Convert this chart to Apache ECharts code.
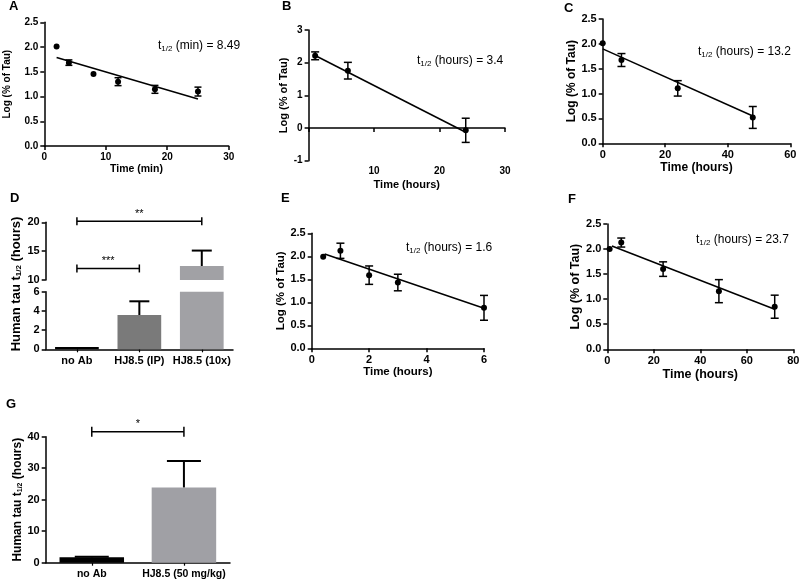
<!DOCTYPE html>
<html><head><meta charset="utf-8">
<script src="https://cdn.jsdelivr.net/npm/echarts@6/dist/echarts.min.js"></script>
<style>html,body{margin:0;padding:0;background:#fff}#c{width:800px;height:580px}</style>
</head><body><div id="c"></div>
<script>
// ---------- DATA ----------
// Panel A
const aTime = [2, 4, 8, 12, 18, 25];
const aLog  = [2.01, 1.685, 1.455, 1.30, 1.145, 1.10];
const aErr  = [0, 0.055, 0, 0.08, 0.08, 0.09];
const aFitX = [2, 25];
const aFitY = [1.79, 0.95];
const aXTicks = [0, 10, 20, 30];
const aYTicks = [0, 0.5, 1.0, 1.5, 2.0, 2.5];
// Panel B
const bTime = [1, 6, 24];
const bLog  = [2.21, 1.755, -0.07];
const bErr  = [0.12, 0.255, 0.37];
const bFitX = [1, 23.7];
const bFitY = [2.22, -0.1];
const bXTicks = [0, 10, 20, 30];
const bYTicks = [-1, 0, 1, 2, 3];
// Panel C
const cTime = [0, 6, 24, 48];
const cLog  = [2.01, 1.675, 1.105, 0.52];
const cErr  = [0, 0.13, 0.155, 0.22];
const cFitX = [0, 48];
const cFitY = [1.90, 0.55];
const cXTicks = [0, 20, 40, 60];
const cYTicks = [0, 0.5, 1.0, 1.5, 2.0, 2.5];
// Panel D
const dCats = ['no Ab', 'HJ8.5 (IP)', 'HJ8.5 (10x)'];
const dVals = [0.25, 3.57, 12.43];
const dErrTop = [0.25, 5.0, 15.1];
const dLowTicks = [0, 2, 4, 6];
const dUpTicks = [10, 15, 20];
const dBrackets = [[0, 1, 12.0], [0, 2, 20.2]];
const dStars = ['***', '**'];
// Panel E
const eTime = [0.4, 1, 2, 3, 6];
const eLog  = [1.99, 2.12, 1.59, 1.43, 0.88];
const eErr  = [0, 0.165, 0.2, 0.18, 0.27];
const eFitX = [0.45, 6];
const eFitY = [2.05, 0.87];
const eXTicks = [0, 2, 4, 6];
const eYTicks = [0, 0.5, 1.0, 1.5, 2.0, 2.5];
// Panel F
const fTime = [1, 6, 24, 48, 72];
const fLog  = [2.0, 2.13, 1.6, 1.16, 0.85];
const fErr  = [0, 0.09, 0.145, 0.23, 0.23];
const fFitX = [2, 72];
const fFitY = [2.06, 0.8];
const fXTicks = [0, 20, 40, 60, 80];
const fYTicks = [0, 0.5, 1.0, 1.5, 2.0, 2.5];
// Panel G
const gCats = ['no Ab', 'HJ8.5 (50 mg/kg)'];
const gVals = [1.7, 23.9];
const gErrTop = [1.9, 32.3];
const gYTicks = [0, 10, 20, 30, 40];
const gBrackets = [[0, 1, 41.6]];
const gStars = ['*'];

// ---------- STYLE ----------
const FONT = 'Liberation Sans';
const dColors = ['#000000', '#7a7a7a', '#a1a1a5'];
const gColors = ['#000000', '#a0a0a5'];
const f1 = v => v.toFixed(1);

function valAxis(gi, ticks, fs, fmt, nameOpt) {
  const ax = {
    type: 'value', gridIndex: gi,
    min: ticks[0], max: ticks[ticks.length - 1], interval: ticks[1] - ticks[0],
    axisLine: { show: true, onZero: false, lineStyle: { color: '#000', width: 1.5 } },
    axisTick: { show: true, length: 4, lineStyle: { color: '#000', width: 1.5 } },
    axisLabel: { show: true, color: '#000', fontFamily: FONT, fontWeight: 'bold', fontSize: fs, margin: 6,
      formatter: fmt, showMinLabel: true, showMaxLabel: true, hideOverlap: false },
    splitLine: { show: false }
  };
  if (nameOpt) {
    ax.name = nameOpt.name; ax.nameLocation = 'middle'; ax.nameGap = nameOpt.gap;
    if (nameOpt.rotate) ax.nameRotate = nameOpt.rotate;
    ax.nameTextStyle = { color: '#000', fontFamily: FONT, fontWeight: 'bold', fontSize: nameOpt.fs, rich: nameOpt.rich };
  }
  return ax;
}
function catAxis(gi, cats, fs, show) {
  return {
    type: 'category', gridIndex: gi, data: cats, show: show,
    axisLine: { show: true, onZero: false, lineStyle: { color: '#000', width: 1.5 } },
    axisTick: { show: true, alignWithLabel: true, length: 3, lineStyle: { color: '#000', width: 1.2 } },
    axisLabel: { color: '#000', fontFamily: FONT, fontWeight: 'bold', fontSize: fs, margin: 6, interval: 0 },
    splitLine: { show: false }
  };
}
const LS = { stroke: '#000', lineWidth: 1.5 };
function symErr(cap) {
  return function (params, api) {
    const x = api.value(0), m = api.value(1), e = api.value(2);
    if (!(e > 0)) return null;
    const lo = api.coord([x, m - e]), hi = api.coord([x, m + e]);
    return { type: 'group', children: [
      { type: 'line', shape: { x1: lo[0], y1: lo[1], x2: hi[0], y2: hi[1] }, style: LS },
      { type: 'line', shape: { x1: lo[0] - cap, y1: lo[1], x2: lo[0] + cap, y2: lo[1] }, style: LS },
      { type: 'line', shape: { x1: hi[0] - cap, y1: hi[1], x2: hi[0] + cap, y2: hi[1] }, style: LS }
    ] };
  };
}
function upErr(cap) {
  return function (params, api) {
    const x = api.value(0), m = api.value(1), t = api.value(2);
    if (!(t > m)) return null;
    const b = api.coord([x, m]), h = api.coord([x, t]);
    const st = { stroke: '#000', lineWidth: 2 };
    return { type: 'group', children: [
      { type: 'line', shape: { x1: b[0], y1: b[1], x2: h[0], y2: h[1] }, style: st },
      { type: 'line', shape: { x1: h[0] - cap, y1: h[1], x2: h[0] + cap, y2: h[1] }, style: st }
    ] };
  };
}
function bracket(labels, tk) {
  return function (params, api) {
    const a = api.coord([api.value(0), api.value(2)]), b = api.coord([api.value(1), api.value(2)]);
    const st = { stroke: '#000', lineWidth: 1.5 };
    return { type: 'group', children: [
      { type: 'line', shape: { x1: a[0], y1: a[1], x2: b[0], y2: b[1] }, style: st },
      { type: 'line', shape: { x1: a[0], y1: a[1] - tk, x2: a[0], y2: a[1] + tk }, style: st },
      { type: 'line', shape: { x1: b[0], y1: b[1] - tk, x2: b[0], y2: b[1] + tk }, style: st },
      { type: 'text', style: { text: labels[params.dataIndex], x: (a[0] + b[0]) / 2, y: a[1] - 2,
        align: 'center', verticalAlign: 'bottom', fontSize: 11, fontFamily: FONT, fill: '#000' } }
    ] };
  };
}
function zip2(xs, ys) { return xs.map((x, i) => [x, ys[i]]); }
function zip3(xs, ys, es) { return xs.map((x, i) => [x, ys[i], es[i]]); }

function panelSeries(ai, t, y, e, fx, fy, cap) {
  return [
    { type: 'line', xAxisIndex: ai, yAxisIndex: ai, data: zip2(fx, fy), symbol: 'none',
      lineStyle: { color: '#000', width: 1.5, opacity: 1 }, z: 2, silent: true },
    { type: 'custom', xAxisIndex: ai, yAxisIndex: ai, data: zip3(t, y, e), renderItem: symErr(cap),
      encode: { x: 0, y: 1 }, z: 3, silent: true },
    { type: 'scatter', xAxisIndex: ai, yAxisIndex: ai, data: zip2(t, y), symbol: 'circle', symbolSize: 6,
      itemStyle: { color: '#000', opacity: 1, borderWidth: 0 }, z: 4, silent: true }
  ];
}

const subRich = (fs) => ({
  n: { fontSize: fs, fontFamily: FONT, fontWeight: 'bold', color: '#000' },
  s: { fontSize: Math.round(fs * 0.62), fontFamily: FONT, fontWeight: 'bold', color: '#000', padding: [5, 0, 0, 0] }
});
const annRich = {
  n: { fontSize: 12, fontFamily: FONT, fontWeight: 'normal', color: '#000' },
  s: { fontSize: 8, fontFamily: FONT, fontWeight: 'normal', color: '#000', padding: [6, 0, 0, 0] }
};
function letter(t, l, tp) {
  return { text: t, left: l, top: tp, padding: 0, textStyle: { fontFamily: FONT, fontWeight: 'bold', fontSize: 13, color: '#000' } };
}
function ann(txt, l, tp) {
  return { text: txt, left: l, top: tp, padding: 0, textStyle: { fontWeight: 'normal', rich: annRich } };
}

const grids = [
  { left: 44.3, top: 22.3, width: 184.4, height: 123.7 },  // A
  { left: 308.6, top: 30, width: 196.4, height: 130.7 },   // B
  { left: 602.7, top: 19, width: 187.6, height: 124.3 },   // C
  { left: 45.7, top: 222.3, width: 187.3, height: 57.7 },  // D upper
  { left: 45.7, top: 291.7, width: 187.3, height: 57.6 },  // D lower
  { left: 311.7, top: 233.3, width: 172.3, height: 115 },  // E
  { left: 607.3, top: 224, width: 186, height: 125.3 },    // F
  { left: 45.7, top: 436.7, width: 184.3, height: 126 }    // G
].map(g => Object.assign({ containLabel: false, outerBoundsMode: 'none' }, g));

const xAxes = [
  valAxis(0, aXTicks, 10, null, { name: 'Time (min)', gap: 18, fs: 10.5 }),
  Object.assign(valAxis(1, bXTicks, 10, v => (v === 0 ? '' : v), { name: 'Time (hours)', gap: 19, fs: 11 }),
    { axisLine: { show: true, onZero: true, lineStyle: { color: '#000', width: 1.5 } } }),
  valAxis(2, cXTicks, 11, null, { name: 'Time (hours)', gap: 17, fs: 12 }),
  catAxis(3, dCats, 11, false),
  catAxis(4, dCats, 11, true),
  valAxis(5, eXTicks, 11, null, { name: 'Time (hours)', gap: 18, fs: 11.5 }),
  valAxis(6, fXTicks, 11, null, { name: 'Time (hours)', gap: 19, fs: 12.5 }),
  catAxis(7, gCats, 10.5, true)
];
const yAxes = [
  valAxis(0, aYTicks, 10, f1, { name: 'Log (% of Tau)', gap: 32, fs: 10, rotate: 90 }),
  valAxis(1, bYTicks, 10, null, { name: 'Log (% of Tau)', gap: 18, fs: 11, rotate: 90 }),
  valAxis(2, cYTicks, 11, f1, { name: 'Log (% of Tau)', gap: 23, fs: 12, rotate: 90 }),
  valAxis(3, dUpTicks, 11, null, null),
  valAxis(4, dLowTicks, 11, null, null),
  valAxis(5, eYTicks, 11, f1, { name: 'Log (% of Tau)', gap: 22, fs: 11.5, rotate: 90 }),
  valAxis(6, fYTicks, 11, f1, { name: 'Log (% of Tau)', gap: 24, fs: 12.5, rotate: 90 }),
  valAxis(7, gYTicks, 11, null, { name: '{n|Human tau t}{s|1/2}{n| (hours)}', gap: 21, fs: 12, rotate: 90, rich: subRich(12) })
];

const series = [].concat(
  panelSeries(0, aTime, aLog, aErr, aFitX, aFitY, 3.5),
  panelSeries(1, bTime, bLog, bErr, bFitX, bFitY, 4),
  panelSeries(2, cTime, cLog, cErr, cFitX, cFitY, 4),
  panelSeries(5, eTime, eLog, eErr, eFitX, eFitY, 4),
  panelSeries(6, fTime, fLog, fErr, fFitX, fFitY, 4),
  [
    // D lower bars
    { type: 'bar', xAxisIndex: 4, yAxisIndex: 4, barWidth: '70%', clip: true, silent: true,
      data: dVals.map((v, i) => ({ value: v, itemStyle: { color: dColors[i], opacity: 1 } })) },
    // D upper bars (only those reaching the upper segment)
    { type: 'bar', xAxisIndex: 3, yAxisIndex: 3, barWidth: '70%', clip: true, silent: true,
      data: dVals.map((v, i) => (v > dUpTicks[0] ? { value: v, itemStyle: { color: dColors[i], opacity: 1 } } : '-')) },
    { type: 'custom', xAxisIndex: 4, yAxisIndex: 4, encode: { x: 0, y: 1 }, renderItem: upErr(10), silent: true, z: 5,
      data: dVals.map((v, i) => (dErrTop[i] <= dLowTicks[dLowTicks.length - 1] ? [i, v, dErrTop[i]] : [i, 0, 0])) },
    { type: 'custom', xAxisIndex: 3, yAxisIndex: 3, encode: { x: 0, y: 1 }, renderItem: upErr(10), silent: true, z: 5,
      data: dVals.map((v, i) => (v > dUpTicks[0] ? [i, v, dErrTop[i]] : [i, 0, 0])) },
    { type: 'custom', xAxisIndex: 3, yAxisIndex: 3, encode: { x: 0, y: 2 }, renderItem: bracket(dStars, 4), silent: true, z: 5,
      data: dBrackets },
    // G
    { type: 'bar', xAxisIndex: 7, yAxisIndex: 7, barWidth: '70%', silent: true,
      data: gVals.map((v, i) => ({ value: v, itemStyle: { color: gColors[i], opacity: 1 } })) },
    { type: 'custom', xAxisIndex: 7, yAxisIndex: 7, encode: { x: 0, y: 1 }, renderItem: upErr(17), silent: true, z: 5,
      data: gVals.map((v, i) => [i, v, gErrTop[i]]) },
    { type: 'custom', xAxisIndex: 7, yAxisIndex: 7, encode: { x: 0, y: 2 }, renderItem: bracket(gStars, 5), silent: true, z: 5,
      data: gBrackets }
  ]
);

const option = {
  animation: false,
  backgroundColor: '#fff',
  title: [
    letter('A', 9, 0), letter('B', 282, 0), letter('C', 564, 2),
    letter('D', 10, 192), letter('E', 281, 192), letter('F', 568, 193), letter('G', 6, 398),
    ann('{n|t}{s|1/2}{n| (min) = 8.49}', 158, 39),
    ann('{n|t}{s|1/2}{n| (hours) = 3.4}', 417, 54),
    ann('{n|t}{s|1/2}{n| (hours) = 13.2}', 698, 45),
    ann('{n|t}{s|1/2}{n| (hours) = 1.6}', 406, 241),
    ann('{n|t}{s|1/2}{n| (hours) = 23.7}', 696, 233)
  ],
  graphic: [{
    type: 'text', x: 16, y: 284, rotation: Math.PI / 2,
    style: { text: '{n|Human tau t}{s|1/2}{n| (hours)}', rich: subRich(13), align: 'center', verticalAlign: 'middle' }
  }],
  grid: grids, xAxis: xAxes, yAxis: yAxes, series: series
};
const chart = echarts.init(document.getElementById('c'), null, { renderer: 'canvas' });
chart.setOption(option);
</script></body></html>
